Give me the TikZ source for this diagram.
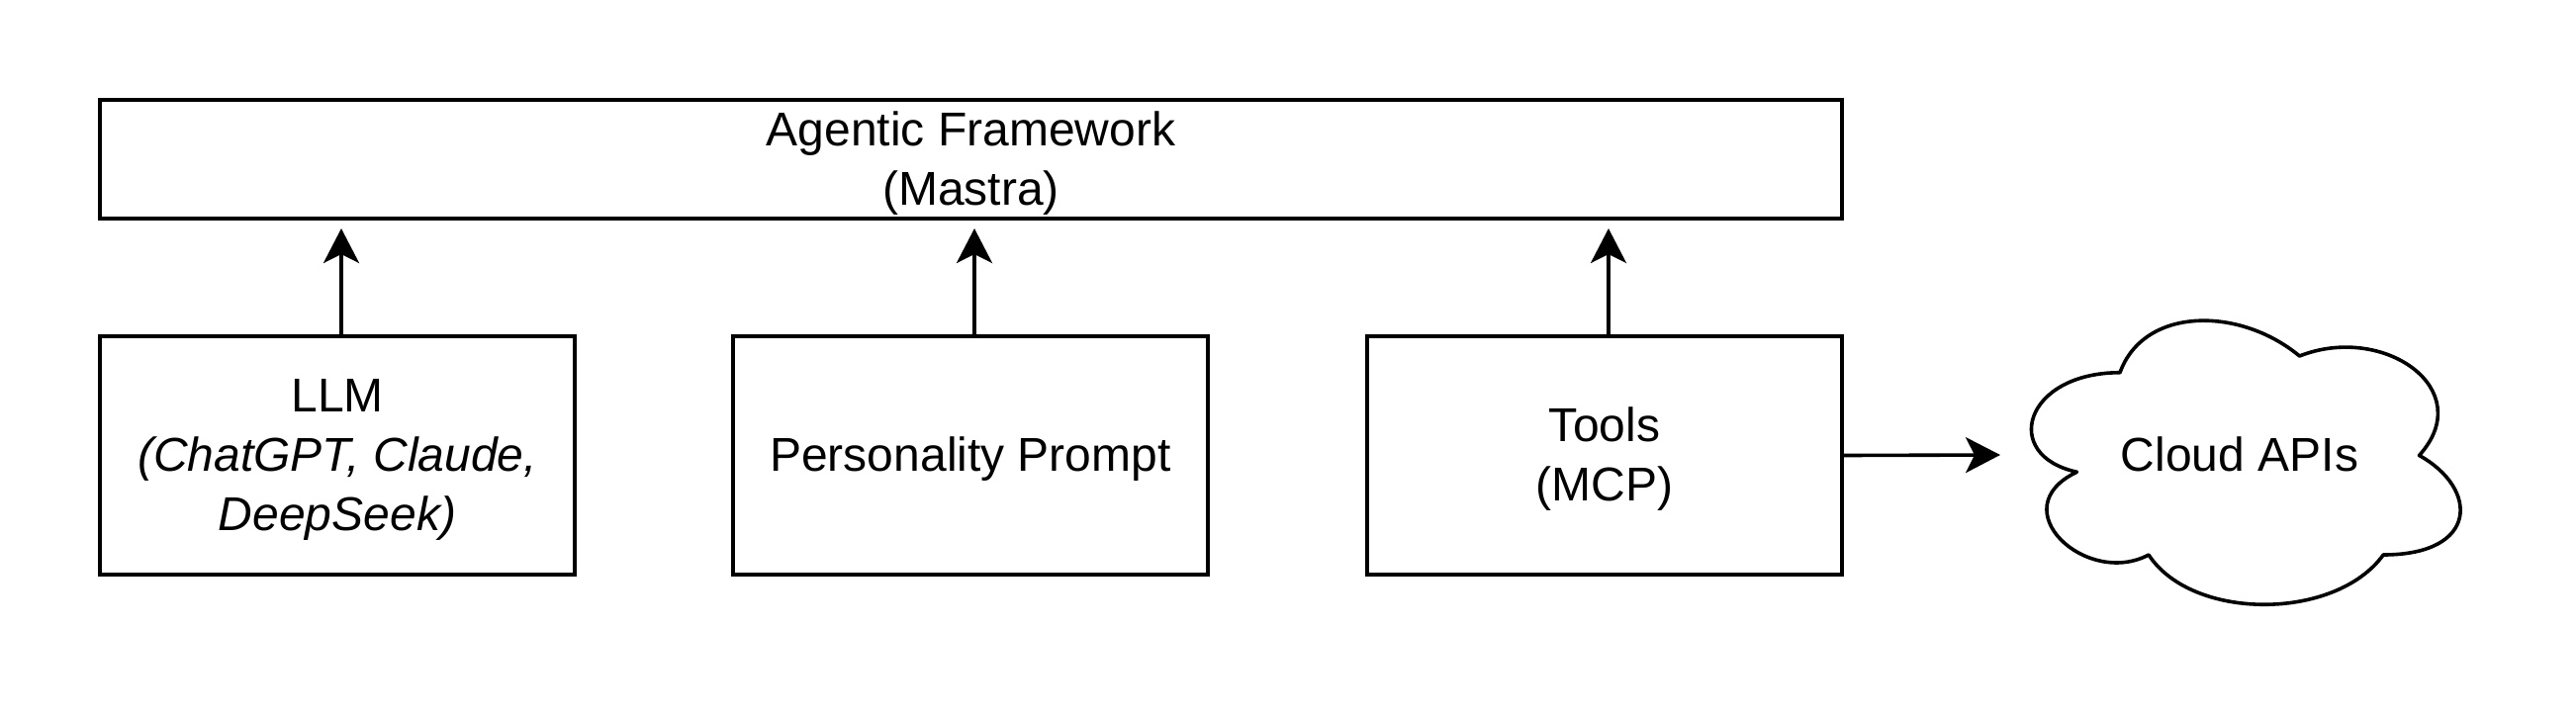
\documentclass[tikz,border=0pt]{standalone}
\usepackage{fontspec}
\setmainfont{Liberation Sans}
\usetikzlibrary{arrows.meta}
\newcommand\mystrut{\rule[-7pt]{0pt}{30pt}}
\begin{document}
\begin{tikzpicture}[x=0.5pt,y=-0.5pt,
  box/.style={draw=black,line width=1.8pt,fill=white,align=center,inner sep=0pt,
    font=\fontsize{24pt}{30pt}\selectfont},
  lbl/.style={align=center,inner sep=0pt,font=\fontsize{24pt}{30pt}\selectfont},
  conn/.style={line width=1.8pt,-{Stealth[length=17.5pt,width=18pt,inset=4.5pt]}},
  cloudline/.style={draw=black,line width=1.8pt,fill=white,line join=round}]
\useasboundingbox (0,0) rectangle (2604,724);
\fill[white] (0,0) rectangle (2604,724);
\node[box,minimum width=880.5pt,minimum height=60pt] (fw) at (981.5,161) {\mystrut Agentic Framework\\\mystrut (Mastra)};
\node[box,minimum width=240pt,minimum height=120.5pt] (llm) at (341,460.5) {\mystrut LLM\\\mystrut\itshape (ChatGPT, Claude,\\\mystrut\itshape DeepSeek)};
\node[box,minimum width=240pt,minimum height=120.5pt] (pp) at (981,460.5) {\mystrut Personality Prompt};
\node[box,minimum width=240pt,minimum height=120.5pt] (tools) at (1622,460.5) {\mystrut Tools\\\mystrut (MCP)};
% cloud (drawio geometry: x 2022, y 293, w 484, h 335)
\begin{scope}[shift={(2022,293)},x=242pt,y=-167.5pt]
\draw[cloudline] (0.25,0.25) .. controls (0.05,0.25) and (0,0.5) .. (0.16,0.55)
  .. controls (0,0.66) and (0.18,0.9) .. (0.31,0.8)
  .. controls (0.4,1) and (0.7,1) .. (0.8,0.8)
  .. controls (1,0.8) and (1,0.6) .. (0.875,0.5)
  .. controls (1,0.3) and (0.8,0.1) .. (0.625,0.2)
  .. controls (0.5,0.05) and (0.3,0.05) .. (0.25,0.25) -- cycle;
\end{scope}
\node[lbl] (cloud) at (2264,460) {\mystrut Cloud APIs};
\coordinate (cloudin) at (2022,460);
\coordinate (fwl) at (345,231);
\coordinate (fwp) at (985,231);
\coordinate (fwt) at (1626,231);
\draw[conn] ([xshift=2pt]llm.north) -- (fwl);
\draw[conn] ([xshift=2pt]pp.north) -- (fwp);
\draw[conn] ([xshift=2pt]tools.north) -- (fwt);
\draw[conn] (tools.east) -- (cloudin);
\end{tikzpicture}
\end{document}
